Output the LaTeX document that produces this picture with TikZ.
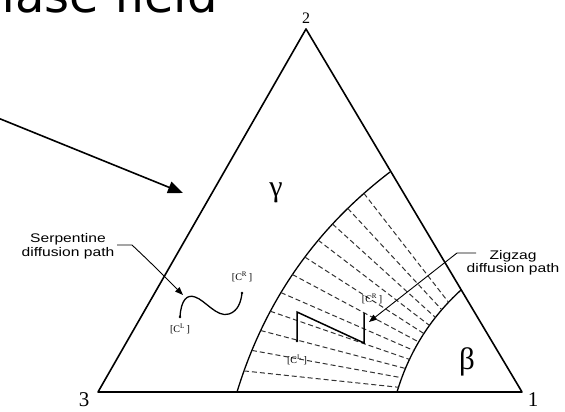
\documentclass[tikz,border=0pt]{standalone}
\usepackage{fontspec}
\setmainfont{Liberation Serif}
\newfontfamily\verd{DejaVu Sans}
\newfontfamily\helv[FakeStretch=1.25]{Liberation Sans}
\usetikzlibrary{arrows.meta}
\tikzset{
  tri/.style={line width=1.6pt, line join=round},
  bnd/.style={line width=1.3pt},
  tie/.style={line width=1pt, dash pattern=on 5pt off 3pt, black!80},
  dpath/.style={line width=1.5pt, line join=miter},
  lead/.style={line width=0.9pt, -{Triangle[length=8pt,width=6pt]}},
  bigarrow/.style={line width=1.6pt, -{Triangle[length=15pt,width=12pt]}},
  lab/.style={font=\helv\fontsize{12.5}{14}\selectfont, inner sep=0pt, anchor=base},
  clab/.style={font=\fontsize{10}{11}\selectfont, inner sep=0pt},
  vnum/.style={inner sep=0pt},
  dot/.style={fill=black, circle, inner sep=0pt, minimum size=2.6pt}
}
\begin{document}
\begin{tikzpicture}[x=1pt,y=-1pt]
\useasboundingbox (0,0) rectangle (565,412);
\clip (0,0) rectangle (565,412);

% title (cut off at top)
\node[font=\verd\fontsize{48}{50}\selectfont, anchor=base east, inner sep=0pt] (title) at (218,12.5) {Phase field};

% triangle vertices
\coordinate (v2) at (306,29);
\coordinate (v3) at (98,392);
\coordinate (v1) at (522,392);
\draw[tri] (v2) -- (v3) -- (v1) -- cycle;

\node[vnum, font=\fontsize{16}{17}\selectfont] (n2) at (306,18) {2};
\node[vnum, font=\fontsize{21}{23}\selectfont] (n3) at (84,400) {3};
\node[vnum, font=\fontsize{21}{23}\selectfont] (n1) at (533,400) {1};

% phase labels
\node[inner sep=0pt, font=\fontsize{30}{32}\selectfont] (gam) at (276,193) {γ};
\node[inner sep=0pt, font=\fontsize{31}{33}\selectfont] (bet) at (467,362) {β};

% phase boundaries
\coordinate (g0) at (390,172);
\coordinate (gc1) at (314.6,229.5);
\coordinate (gc2) at (264.3,302.8);
\coordinate (g1) at (237,392);
\coordinate (b0) at (461,290);
\coordinate (bc1) at (429.9,318.4);
\coordinate (bc2) at (408.9,352.4);
\coordinate (b1) at (397,392);
\draw[bnd] (g0) .. controls (gc1) and (gc2) .. (g1);
\draw[bnd] (b0) .. controls (bc1) and (bc2) .. (b1);

% tie lines
\foreach \i in {0,...,10} {
  \pgfmathsetmacro\p{0.12+0.08*\i}
  \pgfmathsetmacro\q{0.14+0.082*\i}
  \path (g0) .. controls (gc1) and (gc2) .. (g1) coordinate[pos=\p] (ga\i);
  \path (b0) .. controls (bc1) and (bc2) .. (b1) coordinate[pos=\q] (bb\i);
  \draw[tie] (ga\i) -- (bb\i);
}

% zigzag diffusion path
\coordinate (z1) at (297,341);
\coordinate (z2) at (297,312);
\coordinate (z3) at (364,343);
\coordinate (z4) at (364,313);
\draw[dpath] (z1) -- (z2) -- (z3) -- (z4);
\node[dot] (zd1) at (z1) {};
\node[clab] (zcl) at (297,360) {[C$^{\mathrm{L}}$\,]};
\node[clab] (zcr) at (372,299) {[C$^{\mathrm{R}}$\,]};

% serpentine diffusion path
\coordinate (s1) at (180,317);
\coordinate (s2) at (195,297);
\coordinate (s3) at (229,314);
\coordinate (s4) at (242,293);
\draw[line width=1.3pt] (s1) .. controls (181,300) and (187,294) .. (s2)
  .. controls (205,300) and (217,318) .. (s3)
  .. controls (238,311) and (241,302) .. (s4);
\node[dot] (sd1) at (s1) {};
\node[dot] (sd4) at (s4) {};
\node[clab] (scl) at (180,329) {[C$^{\mathrm{L}}$\,]};
\node[clab] (scr) at (242,277) {[C$^{\mathrm{R}}$\,]};

% serpentine label and leader
\node[lab] (ser1) at (68,242) {Serpentine};
\node[lab] (ser2) at (68,256) {diffusion path};
\coordinate (sl0) at (117,245);
\coordinate (sl1) at (132,245);
\coordinate (slt) at (183,295);
\draw[lead] (sl0) -- (sl1) .. controls (150,262) .. (slt);

% zigzag label and leader
\node[lab] (zig1) at (513,259) {Zigzag};
\node[lab] (zig2) at (513,272) {diffusion path};
\coordinate (zl0) at (476,253);
\coordinate (zl1) at (457,253);
\coordinate (zlt) at (369,322);
\draw[lead] (zl0) -- (zl1) -- (zlt);

% big arrow toward the gamma field
\coordinate (a0) at (-2,118);
\coordinate (a1) at (183,193);
\draw[bigarrow] (a0) -- (a1);
\end{tikzpicture}
\end{document}
